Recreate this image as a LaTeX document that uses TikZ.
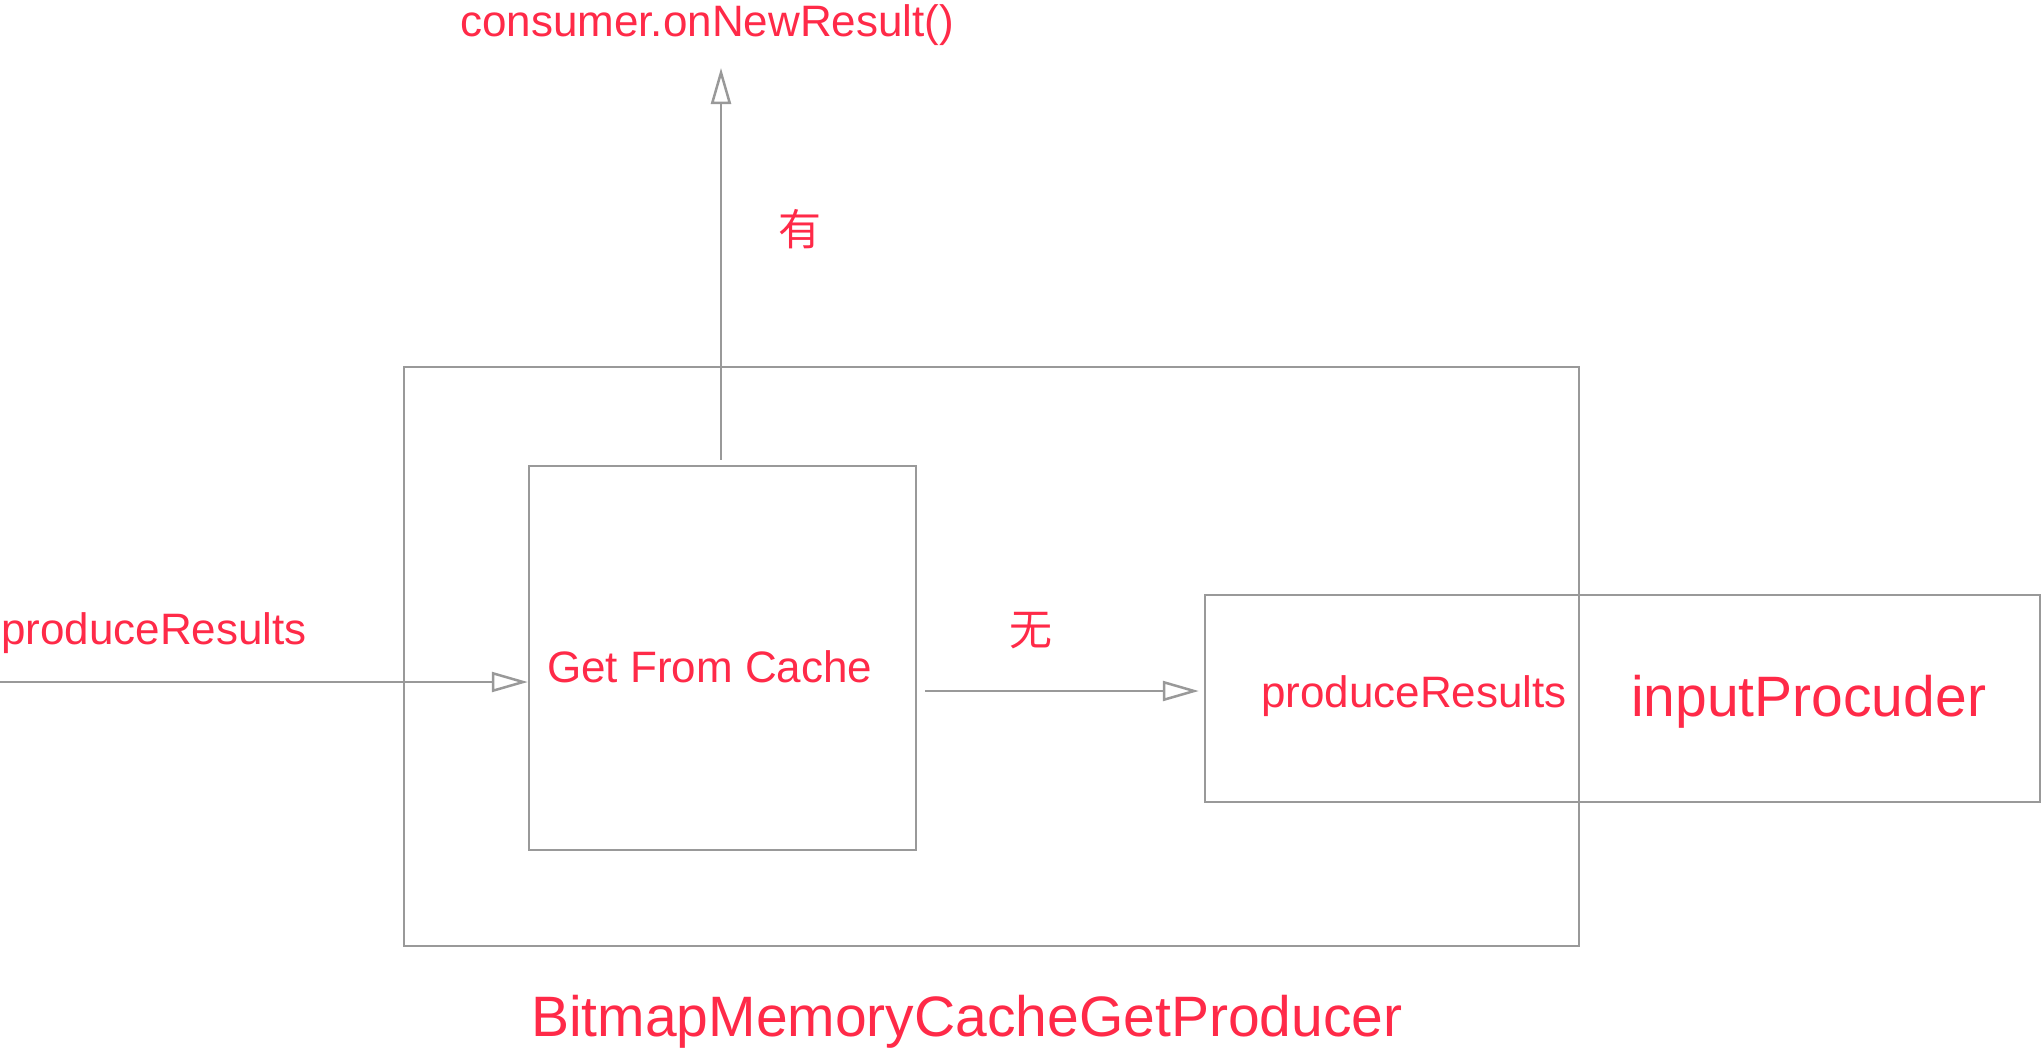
\documentclass[tikz,border=0pt]{standalone}
\usepackage{fontspec}
\setmainfont{Liberation Sans}
\newfontfamily\cjk{Noto Sans CJK SC}
\usetikzlibrary{arrows.meta}
\definecolor{lbl}{RGB}{255,42,72}
\definecolor{ln}{RGB}{153,153,153}
\tikzset{
  boxst/.style={draw=ln, line width=2.5pt, inner sep=0pt, fill=none},
  arr/.style={draw=ln, line width=2.5pt, -{Triangle[open, length=36pt, width=20pt]}},
  txt/.style={text=lbl, inner sep=0pt, anchor=base west, font=\fontsize{44}{52}\selectfont},
  bigtxt/.style={text=lbl, inner sep=0pt, anchor=base west, font=\fontsize{57}{66}\selectfont},
  cjktxt/.style={text=lbl, inner sep=0pt, anchor=center, font=\cjk\fontsize{43}{50}\selectfont}
}
\begin{document}
\begin{tikzpicture}[x=1pt, y=-1pt]
\useasboundingbox (0,0) rectangle (2043,1050);
% boxes
\node[boxst, minimum width=1175pt, minimum height=579pt] (bmc) at (991.5,656.5) {};
\node[boxst, minimum width=387pt, minimum height=384pt] (gfc) at (722.5,658) {};
\node[boxst, minimum width=835pt, minimum height=207pt] (ip) at (1622.5,698.5) {};
% labels
\node[txt] (cons) at (460,36) {consumer.onNewResult()};
\node[cjktxt] (you) at (800,229) {有};
\node[txt] (prL) at (1,644) {produceResults};
\node[txt] (gfct) at (547,682) {Get From Cache};
\node[cjktxt] (wu) at (1031,631) {无};
\node[txt] (prR) at (1261,707) {produceResults};
\node[bigtxt] (ipt) at (1631,716) {inputProcuder};
\node[bigtxt] (bmct) at (531,1036) {BitmapMemoryCacheGetProducer};
% connectors
\coordinate (upTip) at (721,68);
\coordinate (inL) at (0,682);
\coordinate (wuy) at (0,691);
\draw[arr] ([yshift=5pt]gfc.north -| upTip) -- (upTip);
\draw[arr] (inL) -- (inL -| gfc.west);
\draw[arr] ([xshift=8pt]gfc.east |- wuy) -- ([xshift=-5pt]ip.west |- wuy);
\end{tikzpicture}
\end{document}
